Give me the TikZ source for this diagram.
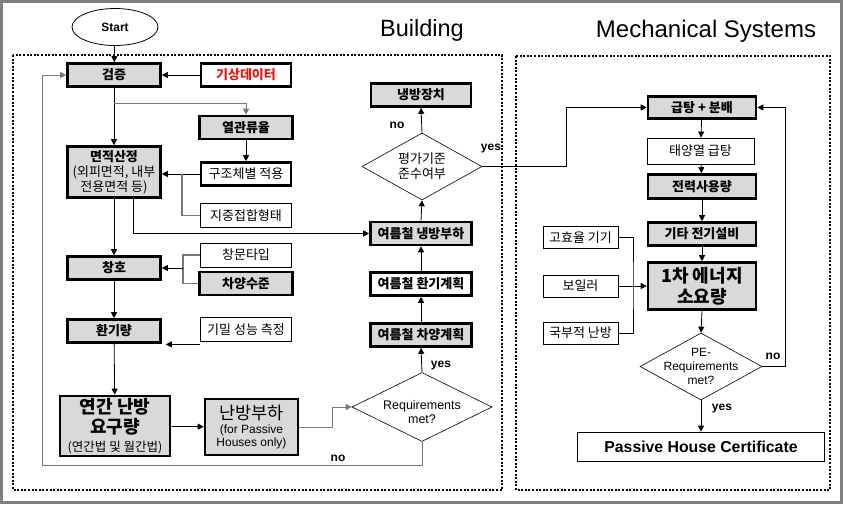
\documentclass[tikz,border=0pt]{standalone}
\usepackage{fontspec}
\setmainfont{Liberation Sans}
\newfontfamily\kr{Noto Sans CJK KR}
\usetikzlibrary{arrows.meta,shapes.geometric,calc}
\definecolor{boxgray}{RGB}{217,217,217}
\definecolor{framegray}{RGB}{128,128,128}
\definecolor{datared}{RGB}{225,25,25}
\definecolor{linegray}{RGB}{120,120,120}
\begin{document}
\begin{tikzpicture}[x=1pt,y=-1pt,
  every node/.style={inner sep=0pt, align=center},
  gbox/.style={draw=black, line width=2.6pt, fill=boxgray, minimum width=93pt, minimum height=23pt, font=\kr\bfseries\fontsize{13}{15}\selectfont},
  wbox/.style={draw=black, line width=2.6pt, fill=white, minimum width=90pt, minimum height=23pt, font=\kr\fontsize{13}{15}\selectfont},
  tbox/.style={draw=black, line width=0.8pt, fill=white, minimum width=91pt, minimum height=24pt, font=\kr\fontsize{13}{15}\selectfont},
  dia/.style={draw, diamond, line width=0.6pt, fill=white, aspect=2},
  arr/.style={-{Triangle[length=6pt,width=6pt]}, line width=0.8pt},
  garr/.style={arr, draw=linegray},
  gline/.style={line width=1.3pt, draw=linegray},
  lab/.style={font=\bfseries\fontsize{12}{14}\selectfont},
  dotbox/.style={line width=2.6pt, dash pattern=on 2pt off 1.6pt}
]
\useasboundingbox (0,0) rectangle (843,504);
\fill[white] (0,0) rectangle (843,504);
\draw[framegray, line width=3pt] (1.5,1.5) rectangle (841.5,502.5);

% titles
\node (tb) at (422,30) {\fontsize{23.5}{26}\selectfont Building};
\node (tm) at (706,31) {\fontsize{24}{26}\selectfont Mechanical Systems};

% dotted frames
\draw[dotbox] (13,55) rectangle (502,490);
\draw[dotbox] (516,56) rectangle (830,490);

% start
\node[draw, ellipse, line width=0.8pt, minimum width=86pt, minimum height=37pt, font=\bfseries\fontsize{12}{14}\selectfont] (start) at (115,27) {Start};

% building left column
\node[gbox] (gj) at (114,75) {검증};
\node[wbox, text=datared, font=\kr\bfseries\fontsize{13}{15}\selectfont] (gisang) at (246,75) {기상데이터};
\node[gbox] (yeol) at (246,127.5) {열관류율};
\node[wbox] (gujo) at (246,174) {구조체별 적용};
\node[tbox] (jijung) at (246,215.5) {지중접합형태};
\node[gbox, minimum height=51pt, font=\kr\fontsize{13}{15}\selectfont] (myeon) at (114,172) {\textbf{면적산정}\\(외피면적, 내부\\전용면적 등)};
\node[tbox] (changmun) at (246,255) {창문타입};
\node[gbox] (chayang) at (246,283.5) {차양수준};
\node[gbox] (chang) at (114,268) {창호};
\node[tbox] (gimil) at (246,329.5) {기밀 성능 측정};
\node[gbox] (hwan) at (114,331) {환기량};
\node[gbox, minimum width=110pt, minimum height=60pt, font=\kr\bfseries\fontsize{18}{20}\selectfont] (yeongan) at (115,426)
  {연간 난방\\요구량\\[-2pt]\mdseries\fontsize{12.5}{14}\selectfont (연간법 및 월간법)};
\node[gbox, minimum width=93pt, minimum height=56pt, font=\fontsize{12}{13}\selectfont] (nanbang) at (251.5,427)
  {{\kr\fontsize{17.5}{19}\selectfont 난방부하}\\[1pt](for Passive\\Houses only)};
\node[dia, minimum width=140pt, minimum height=69pt] (req) at (422,407) {};
\node[font=\fontsize{12.5}{14.5}\selectfont] (reqt) at ([yshift=-5pt]req.center) {Requirements\\met?};

% building right column
\node[gbox, minimum width=100pt] (device) at (421,95) {냉방장치};
\node[dia, minimum width=120pt, minimum height=67pt] (eval) at (422,166.5) {};
\node[font=\kr\fontsize{13}{15}\selectfont] (evalt) at (eval.center) {평가기준\\준수여부};
\node[gbox, minimum width=101pt] (cool) at (421,233.5) {여름철 냉방부하};
\node[wbox, minimum width=101pt, font=\kr\bfseries\fontsize{13}{15}\selectfont] (vent) at (421,284) {여름철 환기계획};
\node[gbox, minimum width=101pt] (shade) at (421,335) {여름철 차양계획};

% mechanical
\node[gbox, minimum width=108pt, minimum height=22pt] (hot) at (702,107.5) {급탕 + 분배};
\node[tbox, minimum width=107pt, minimum height=26pt] (solar) at (700.5,151) {태양열 급탕};
\node[gbox, minimum width=108pt, minimum height=24pt] (elec) at (702,186.5) {전력사용량};
\node[gbox, minimum width=108pt, minimum height=23pt] (etc) at (702,234) {기타 전기설비};
\node[gbox, minimum width=108pt, minimum height=47pt, font=\kr\bfseries\fontsize{18}{21}\selectfont] (energy) at (702,286) {1차 에너지\\소요량};
\node[tbox, minimum width=75pt, minimum height=22pt] (high) at (580.5,237.5) {고효율 기기};
\node[tbox, minimum width=75pt, minimum height=22pt] (boiler) at (580.5,286) {보일러};
\node[tbox, minimum width=75pt, minimum height=22pt] (local) at (580.5,333) {국부적 난방};
\node[dia, minimum width=122pt, minimum height=67pt] (pe) at (701,366.5) {};
\node[font=\fontsize{12}{14}\selectfont] (pet) at (pe.center) {PE-\\Requirements\\met?};
\node[draw, line width=0.8pt, minimum width=247pt, minimum height=29pt, font=\bfseries\fontsize{15.8}{18}\selectfont] (cert) at (701,446.5) {Passive House Certificate};

% connectors building
\draw[arr] (start) -- (gj);
\draw[arr] (gisang) -- (gj);
\draw[arr] (gj) -- (myeon);
\coordinate (b1) at (114,103);
\draw[garr] (b1) -| (yeol.north);
\draw[arr] (yeol) -- (gujo);
\draw[arr] (gujo.west) -- (gujo.west -| myeon.east);
\coordinate (jj) at (182,174);
\draw[gline] (jijung.west) -| (jj);
\draw[arr] ([xshift=19pt]myeon.south) |- (cool.west);
\draw[arr] (myeon) -- (chang);
\coordinate (cw) at (183,268);
\draw[gline] (changmun.west) -| (cw) |- (chayang.west);
\draw[arr] (cw) -- (cw -| chang.east);
\draw[arr] (chang) -- (hwan);
\draw[arr, shorten >=4pt] ([yshift=-2.5pt]gimil.south west) -- ([yshift=-2.5pt]gimil.south west -| hwan.east);
\draw[arr] (hwan) -- (yeongan);
\draw[arr] (yeongan) -- (nanbang);
\draw[garr] (nanbang.east) -- ++(33,0) |- (req.west);
\coordinate (lp) at (42,465);
\draw[garr] (req.south) |- (lp) |- (gj.west);
\node[lab] (nol) at (338,458) {no};
\draw[arr] (req.north) -- (shade.south);
\node[lab] (yesl) at (441,366) {yes};
\draw[arr] (shade) -- (vent);
\draw[arr] (vent) -- (cool);
\draw[arr] (cool.north) -- (eval.south);
\draw[arr] (eval.north) -- (device.south);
\node[lab] (no2) at (397,125) {no};
\draw[arr] (eval.east) -- (566,166.5) |- (hot.west);
\node[lab] (yes2) at (491,149) {yes};

% connectors mechanical
\draw[arr] (hot) -- (solar);
\draw[arr] (solar) -- (elec);
\draw[arr] (elec) -- (etc);
\draw[arr] (etc) -- (energy);
\draw[arr] (energy.south) -- (pe.north);
\coordinate (hm) at (633,286);
\draw[line width=0.8pt] (high.east) -| (hm) |- (local.east);
\draw[arr] (boiler.east) -- (energy.west);
\draw[arr] (pe.east) -- (785,366.5) |- (hot.east);
\node[lab] (no3) at (773,356) {no};
\draw[arr] (pe.south) -- (cert.north);
\node[lab] (yes3) at (722,409) {yes};
\end{tikzpicture}
\end{document}
